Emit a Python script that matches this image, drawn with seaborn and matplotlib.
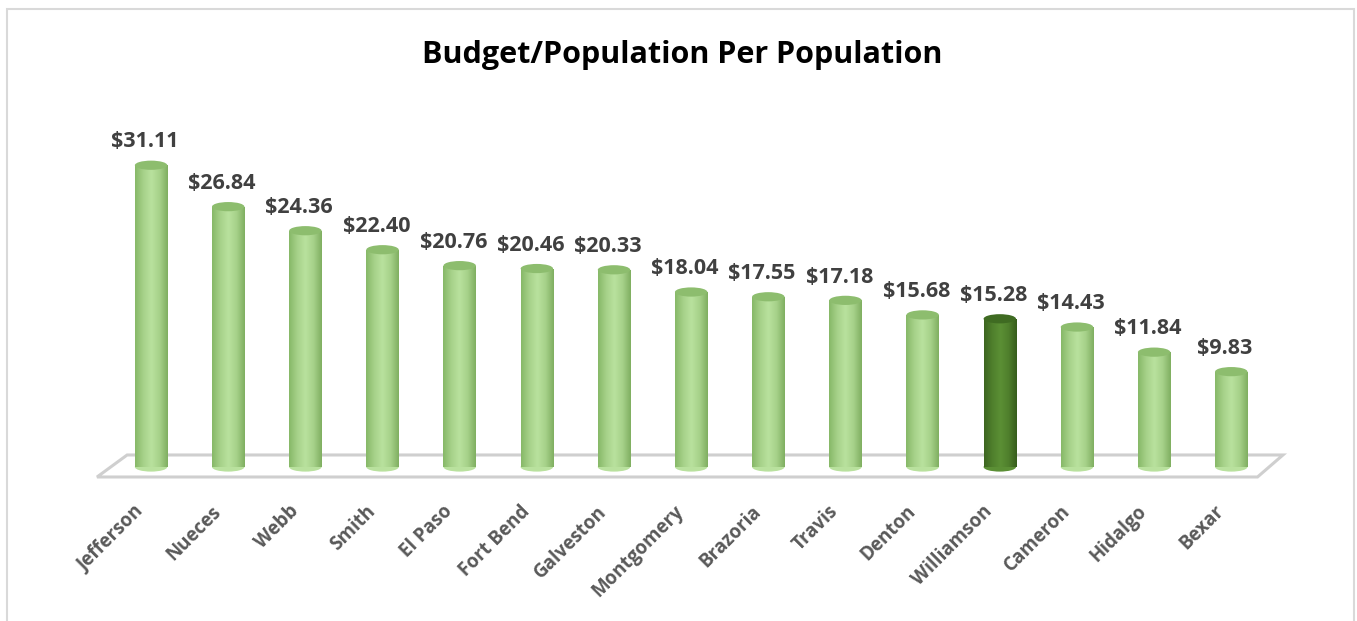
import numpy as np
import pandas as pd
import matplotlib
matplotlib.use("Agg")
import matplotlib.pyplot as plt
import matplotlib.transforms as mtransforms
from matplotlib.patches import Ellipse, Polygon, Rectangle
from matplotlib.colors import LinearSegmentedColormap
import seaborn as sns

counties = ["Jefferson", "Nueces", "Webb", "Smith", "El Paso", "Fort Bend", "Galveston",
            "Montgomery", "Brazoria", "Travis", "Denton", "Williamson", "Cameron",
            "Hidalgo", "Bexar"]
values = [31.11, 26.84, 24.36, 22.40, 20.76, 20.46, 20.33, 18.04, 17.55, 17.18,
          15.68, 15.28, 14.43, 11.84, 9.83]
highlight = "Williamson"

sns.set_theme(style="white")
plt.rcParams["font.family"] = ["Open Sans", "DejaVu Sans"]

W, H = 1357, 621
fig = plt.figure(figsize=(W / 100, H / 100), dpi=100)

# axes placement (pixels)
left_px, right_px = 60, 1320
top_px = 100
base_px = 467
ppu = 9.7
ymin = -3.0
bottom_px = base_px - ymin * ppu
ax = fig.add_axes([left_px / W, 1 - bottom_px / H, (right_px - left_px) / W, (bottom_px - top_px) / H])

df = pd.DataFrame({"county": counties, "value": values})
light = "#a9d48c"
dark = "#4f7f2c"
palette = {c: (dark if c == highlight else light) for c in counties}
bw = 0.42
sns.barplot(data=df, x="county", y="value", hue="county", palette=palette, legend=False,
            width=bw, ax=ax, saturation=1, linewidth=0)

# floor parallelogram
floor = Polygon([(-0.70, -1.03), (14.34, -1.03), (14.67, 1.24), (-0.31, 1.24)], closed=True,
                facecolor="white", edgecolor="#cfcfcf", linewidth=2.2, zorder=0.5)
ax.add_patch(floor)

cm_light = LinearSegmentedColormap.from_list("l", ["#86b867", "#a6d189", "#b9e19e", "#a6d189", "#7fae60"])
cm_dark = LinearSegmentedColormap.from_list("d", ["#3c6520", "#4f7f2c", "#5b8f35", "#4f7f2c", "#365c1c"])
grad = np.linspace(0, 1, 256).reshape(1, -1)
eh = 0.95  # ellipse height in data units
for patch, c, v in zip(ax.patches[:len(counties)], counties, values):
    x0 = patch.get_x()
    w = patch.get_width()
    cm = cm_dark if c == highlight else cm_light
    patch.set_zorder(2)
    im = ax.imshow(grad, cmap=cm, aspect="auto", extent=[x0, x0 + w, 0, v], zorder=2.1,
                   interpolation="bicubic")
    im.set_clip_path(patch)
    # bottom cap
    ax.add_patch(Ellipse((x0 + w / 2, 0), w, eh, facecolor=cm(0.5), edgecolor="none", zorder=1.9))
    # top cap
    topc = "#3f6b22" if c == highlight else "#8dbd6e"
    ax.add_patch(Ellipse((x0 + w / 2, v), w, eh, facecolor=topc, edgecolor="none", zorder=2.5))
    ax.text(x0 + w / 2 - 0.08, v + 2.4, f"${v:.2f}", ha="center", va="center",
            fontsize=15.5, fontweight="bold", color="#404040", zorder=3)
ax.set_xlim(-1.18, 15.15)
ax.set_ylim(ymin, (base_px - top_px) / ppu)

ax.set_xlabel("")
ax.set_ylabel("")
ax.set_yticks([])
ax.tick_params(axis="x", length=0, pad=9)
offset = mtransforms.ScaledTranslation(-10 / 100, 0, fig.dpi_scale_trans)
for lab in ax.get_xticklabels():
    lab.set_rotation(45)
    lab.set_ha("right")
    lab.set_va("center")
    lab.set_rotation_mode("anchor")
    lab.set_fontsize(13.5)
    lab.set_fontweight("bold")
    lab.set_color("#595959")
    lab.set_transform(lab.get_transform() + offset)
sns.despine(ax=ax, left=True, bottom=True)
ax.patch.set_alpha(0)

fig.text(682 / W, 1 - 55 / H, "Budget/Population Per Population", ha="center", va="center",
         fontsize=22, fontweight="bold", color="black")

# chart frame
fig.add_artist(Rectangle((7 / W, -0.05), (1354 - 7) / W, 1.05 - 9 / H, transform=fig.transFigure,
                         fill=False, edgecolor="#d9d9d9", linewidth=1.5))

fig.savefig("out.png", dpi=100, facecolor="white")
